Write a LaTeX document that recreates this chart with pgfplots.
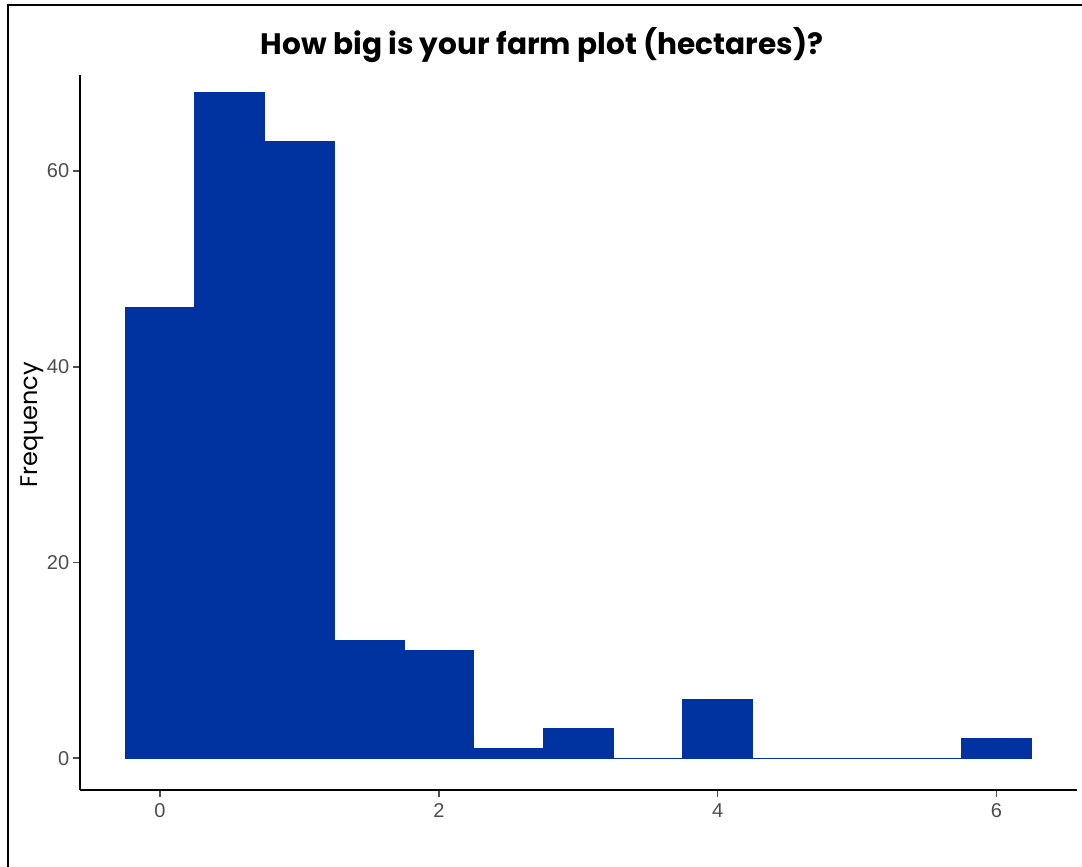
\documentclass[border=0pt]{standalone}
\usepackage{pgfplots}
\pgfplotsset{compat=1.18}
\usepackage{fontspec}
\setmainfont{Liberation Sans}
\newfontfamily\titlefont{Poppins}
\definecolor{barblue}{RGB}{0,51,160}
\definecolor{tickgray}{RGB}{77,77,77}
\begin{document}
\begin{tikzpicture}
\path[use as bounding box] (0pt,0pt) rectangle (541pt,-433.5pt);
\draw[black, line width=1pt] (4pt,-433.5pt) -- (4pt,-2.3pt) -- (541pt,-2.3pt);
\node[font=\titlefont\bfseries\fontsize{14.8pt}{16pt}\selectfont] at (271pt,-22.5pt) {How big is your farm plot (hectares)?};
\node[rotate=90, font=\titlefont\fontsize{12pt}{14pt}\selectfont] at (16pt,-212.5pt) {Frequency};
\begin{axis}[
  at={(40pt,-395pt)}, anchor=south west,
  scale only axis,
  width=498.5pt, height=357.5pt,
  xmin=-0.574, xmax=6.578,
  ymin=-3.24, ymax=69.8,
  axis x line*=bottom, axis y line*=left,
  axis line style={black, line width=0.8pt, -},
  xtick={0,2,4,6}, ytick={0,20,40,60},
  tick align=outside,
  major tick length=3.4pt,
  tick style={tickgray, line width=0.8pt},
  ticklabel style={font=\fontsize{10pt}{12pt}\selectfont, text=tickgray},
  /pgf/number format/assume math mode=true,
  xticklabel style={yshift=0pt},
  yticklabel style={xshift=1.5pt},
]
\addplot[ybar interval, fill=barblue, draw=barblue, line width=0.6pt] coordinates {
(-0.25,46) (0.25,68) (0.75,63) (1.25,12) (1.75,11) (2.25,1) (2.75,3) (3.25,0) (3.75,6) (4.25,0) (4.75,0) (5.25,0) (5.75,2) (6.25,2)
};
\end{axis}
\end{tikzpicture}
\end{document}
